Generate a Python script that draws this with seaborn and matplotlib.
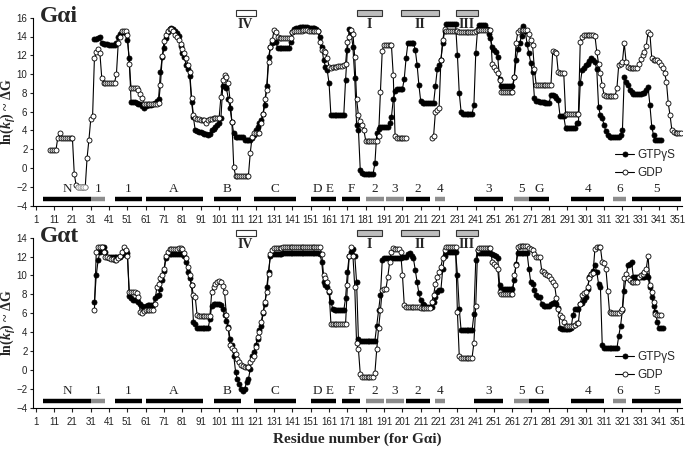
import numpy as np
import pandas as pd
import matplotlib
matplotlib.use('Agg')
import matplotlib.pyplot as plt
import seaborn as sns
from matplotlib.lines import Line2D
from matplotlib.patches import Rectangle

nan = np.nan

# Gai, GDP state (open circles), one value per residue starting at residue 1
gi_gdp = [nan] * 8 + [1.9, 1.9,
    1.9, 1.9, 3.2, 3.7, 3.2, 3.2, 3.2, 3.2, 3.2, 3.2,
    3.2, -0.6, -1.8, -2.0, -2.0, -2.0, -2.0, -2.0, 1.1, 3.0,
    5.2, 5.5, 11.7, 12.3, 12.7, 12.2, 9.6, 9.1, 9.1, 9.1,
    9.1, 9.1, 9.1, 9.1, 10.0, 13.3, 14.0, 14.6, 14.6, 14.6,
    14.2, 11.1, 8.5, 8.5, 8.5, 8.5, 8.3, 7.9, 7.5, 6.8,
    6.8, 6.8, 6.8, 6.8, 6.8, 6.8, 6.8, 6.9, 8.8, 11.9,
    13.5, 14.2, 14.6, 14.8, 14.8, 14.6, 14.2, 13.9, 13.6, 13.2,
    12.7, 12.2, 11.7, 11.0, 10.2, 7.5, 5.6, 5.3, 5.2, 5.2,
    5.1, 5.1, 5.1, 4.8, 5.1, 5.2, 5.2, 5.3, 5.3, 5.3,
    5.3, 7.6, 9.4, 9.9, 9.7, 9.0, 7.2, 4.9, 0.1, -0.8,
    -0.8, -0.8, -0.8, -0.8, -0.8, -0.8, -0.8, 1.6, 3.3, 3.7,
    3.7, 3.7, 3.7, 4.8, 5.8, 7.4, 8.3, 11.3, 12.9, 13.6,
    14.7, 14.5, 14.0, 13.8, 13.8, 13.8, 13.8, 13.8, 13.8, 13.8,
    14.5, 14.6, 14.6, 14.6, 14.6, 14.6, 14.7, 14.7, 14.7, 14.6,
    14.6, 14.6, 14.6, 14.6, 14.6, 13.4, 12.6, 12.5, 12.4, 11.7,
    10.8, 10.7, 10.8, 10.8, 10.8, 10.9, 10.9, 10.9, 11.0, 11.1,
    13.4, 14.0, 14.7, 14.3, 11.8, 7.4, 5.6, 5.0, 4.6, 4.0,
    2.9, 2.9, 2.9, 2.9, 2.9, 2.9, 2.9, 3.4, 8.1, 12.5,
    13.1, 13.1, 13.1, 13.1, 13.1, 9.9, 3.4, 3.2, 3.2, 3.2,
    3.2, 3.2, 3.2, nan, nan, nan, nan, nan, nan, nan,
    nan, nan, nan, nan, nan, nan, 3.2, 3.4, 6.0, 6.2,
    6.4, 11.5, 13.6, 14.8, 14.6, 14.6, 14.6, 14.6, 14.6, 14.6,
    14.6, 14.5, 14.5, 14.5, 14.5, 14.5, 14.5, 14.5, 14.5, 14.5,
    14.6, 14.7, 14.7, 14.7, 14.7, 14.7, 14.7, 14.7, 14.7, 11.1,
    10.8, 10.4, 10.1, 9.4, 8.1, 8.1, 8.1, 8.1, 8.1, 8.1,
    8.1, 9.7, 13.3, 14.5, 14.7, 14.7, 14.7, 14.7, 14.7, 14.3,
    13.6, 13.1, 10.5, 8.8, 8.8, 8.8, 8.8, 8.8, 8.8, 8.8,
    8.8, 8.8, 12.5, 12.4, 12.2, 10.2, 10.1, 10.1, 10.1, 5.8,
    5.8, 5.8, 5.8, 5.8, 5.8, 5.8, 5.8, 13.4, 14.0, 14.2,
    14.2, 14.2, 14.2, 14.2, 14.2, 14.1, 12.4, 11.1, 10.1, 8.8,
    7.8, 7.7, 7.7, 7.7, 7.7, 7.7, 7.7, 8.5, 11.0, 11.1,
    11.3, 13.3, 11.3, 10.8, 10.6, 10.6, 10.6, 10.6, 10.6, 11.1,
    11.6, 12.0, 12.4, 13.0, 14.5, 14.3, 11.7, 11.5, 11.5, 11.5,
    11.3, 11.0, 10.6, 10.1, 9.2, 6.9, 5.6, 4.0, 3.8, 3.7,
    3.7, 3.7, 3.7]
gi_gdp_gray = [24, 25, 26, 27, 28]

# Gai, GTPgammaS state (filled circles)
gi_gtp = [nan] * 30 + [
    nan, nan, 13.7, 13.7, 13.8, 13.9, 13.3, 13.2, 13.2, 13.2,
    13.1, 13.1, 13.1, 13.1, 13.3, 14.0, 14.3, 14.5, 14.5, 14.4,
    13.6, 11.7, 7.0, 7.0, 7.0, 6.9, 6.8, 6.8, 6.6, 6.4,
    6.6, 6.7, 6.7, 6.7, 6.8, 6.9, 7.1, 7.4, 10.2, 11.8,
    12.8, 13.8, 14.5, 14.8, 14.9, 14.8, 14.6, 14.4, 14.1, 13.0,
    12.2, 11.8, 11.0, 10.5, 9.8, 7.0, 5.4, 4.0, 3.9, 3.8,
    3.8, 3.7, 3.6, 3.6, 3.5, 3.6, 4.0, 4.2, 4.4, 4.6,
    4.8, 5.3, 8.7, 8.7, 8.5, 7.4, 6.4, 4.9, 3.7, 3.3,
    3.3, 3.3, 3.3, 3.3, 3.0, 3.0, 3.0, 3.0, 3.2, 3.5,
    4.0, 4.4, 4.8, 5.1, 5.8, 6.7, 8.7, 11.8, 12.9, 13.3,
    13.4, 13.4, 12.8, 12.8, 12.8, 12.8, 12.8, 12.8, 12.8, 13.4,
    14.5, 14.8, 14.9, 14.9, 15.0, 15.0, 15.0, 15.0, 15.0, 14.9,
    14.9, 14.9, 14.9, 14.8, 14.6, 14.0, 12.9, 11.5, 10.8, 10.4,
    9.0, 5.6, 5.6, 5.6, 5.6, 5.6, 5.6, 5.6, 5.6, 9.4,
    12.6, 14.8, 14.5, 12.9, 9.6, 4.6, 4.1, -0.2, -0.5, -0.6,
    -0.6, -0.6, -0.6, -0.6, -0.6, 0.5, 3.7, 4.2, 4.4, 4.4,
    4.4, 4.4, 4.4, 4.8, 5.4, 7.3, 8.2, 8.4, 8.4, 8.4,
    8.4, 9.5, 11.7, 13.3, 13.3, 13.3, 13.3, 12.6, 11.0, 8.8,
    7.1, 6.9, 6.9, 6.9, 6.9, 6.9, 6.9, 6.9, 8.7, 10.5,
    11.0, 11.5, 13.3, 14.6, 15.3, 15.3, 15.3, 15.3, 15.3, 15.3,
    12.0, 8.0, 6.0, 5.8, 5.8, 5.8, 5.8, 5.8, 5.8, 6.7,
    12.2, 14.8, 15.2, 15.2, 15.2, 15.2, 14.8, 14.3, 13.8, 12.9,
    12.6, 12.4, 11.8, 9.5, 8.7, 8.7, 8.7, 8.7, 8.7, 8.7,
    8.7, 9.7, 11.5, 12.7, 13.3, 14.1, 15.1, 14.6, 13.2, 12.2,
    11.2, 10.2, 7.5, 7.1, 7.1, 7.0, 7.0, 7.0, 6.9, 6.9,
    6.9, 7.8, 7.8, 7.7, 7.5, 7.2, 5.5, 5.5, 5.5, 4.3,
    4.3, 4.3, 4.3, 4.3, 4.3, 4.8, 4.8, 9.0, 10.4, 10.7,
    11.0, 11.1, 11.4, 11.7, 11.5, 11.3, 10.5, 6.5, 5.6, 5.3,
    4.6, 3.9, 3.5, 3.3, 3.3, 3.3, 3.3, 3.3, 3.3, 3.5,
    4.0, 9.7, 9.2, 8.8, 8.3, 8.1, 7.9, 7.9, 7.9, 7.9,
    7.9, 8.0, 8.0, 8.3, 8.6, 6.7, 4.4, 3.5, 3.0, 3.0,
    3.0, 3.0]

# Gat, GDP state
gt_gdp = [nan] * 30 + [
    nan, nan, 6.3, 12.5, 13.0, 13.0, 13.0, 12.5, 12.0, 12.0,
    11.9, 11.7, 11.7, 11.6, 11.6, 11.8, 12.1, 12.5, 13.0, 12.7,
    12.1, 8.3, 8.3, 8.2, 8.2, 8.1, 7.7, 6.1, 6.0, 6.2,
    6.3, 6.3, 6.3, 6.3, 6.3, 7.0, 8.8, 9.1, 9.7, 10.0,
    10.7, 12.1, 12.5, 12.8, 12.8, 12.8, 12.8, 12.8, 12.9, 12.9,
    12.8, 12.4, 11.9, 10.9, 10.0, 9.0, 7.9, 7.7, 5.8, 5.7,
    5.7, 5.7, 5.7, 5.7, 5.7, 5.7, 8.3, 8.8, 9.1, 9.3,
    9.4, 9.3, 8.9, 8.2, 5.8, 4.4, 2.6, 2.3, 2.1, 1.7,
    1.2, 0.8, 0.5, 0.4, 0.3, 0.3, 0.3, 0.8, 1.2, 1.5,
    2.4, 3.5, 4.0, 5.1, 6.1, 7.2, 8.2, 10.2, 12.3, 12.7,
    12.9, 12.9, 12.9, 12.9, 12.9, 13.0, 13.0, 13.0, 13.0, 13.0,
    13.0, 13.0, 13.0, 13.0, 13.0, 13.0, 13.0, 13.0, 13.0, 13.0,
    13.0, 13.0, 13.0, 13.0, 13.0, 13.0, 12.3, 10.0, 9.7, 9.3,
    8.4, 4.9, 4.9, 4.9, 4.9, 4.9, 4.9, 4.9, 4.9, 4.9,
    9.0, 12.1, 13.0, 12.1, 8.8, 2.8, 2.2, -0.4, -0.8, -0.8,
    -0.8, -0.8, -0.8, -0.8, -0.8, -0.3, 2.2, 4.4, 6.3, 8.5,
    8.6, 8.6, 9.8, 11.4, 12.5, 12.9, 12.8, 12.8, 12.8, 12.5,
    10.1, 6.9, 6.7, 6.7, 6.7, 6.7, 6.7, 6.7, 6.7, 6.7,
    6.6, 6.6, 6.6, 6.6, 6.6, 6.6, 7.2, 7.9, 9.1, 9.8,
    10.4, 10.9, 11.9, 12.7, 13.0, 13.0, 13.0, 13.0, 13.0, 13.0,
    6.1, 1.5, 1.3, 1.3, 1.3, 1.3, 1.3, 1.3, 1.3, 2.9,
    6.8, 12.7, 12.9, 12.9, 12.9, 12.9, 12.9, 12.9, 12.9, 11.4,
    11.2, 11.0, 10.7, 8.2, 8.0, 8.0, 8.0, 8.0, 8.0, 8.0,
    8.0, 10.0, 11.1, 13.0, 13.1, 13.1, 13.1, 13.1, 13.1, 12.9,
    12.8, 12.7, 12.3, 12.0, 12.0, 12.0, 10.5, 10.4, 10.2, 10.1,
    9.9, 9.6, 9.3, 9.0, 7.6, 6.5, 5.8, 5.6, 5.1, 4.7,
    4.6, 4.6, 4.6, 4.6, 4.8, 5.0, 5.0, 7.0, 7.9, 8.1,
    8.2, 8.8, 9.7, 10.2, 10.3, 12.8, 13.0, 13.0, 13.0, 11.4,
    11.3, 10.7, 8.4, 6.1, 6.0, 6.0, 6.0, 6.0, 6.0, 6.2,
    6.5, 9.7, 10.2, 9.7, 9.5, 9.3, 9.3, 9.3, 9.3, 9.8,
    10.0, 10.2, 10.4, 10.7, 12.1, 9.0, 8.3, 7.2, 5.9, 5.8,
    5.8, 5.8]

# Gat, GTPgammaS state
gt_gtp = [nan] * 30 + [
    nan, nan, 7.2, 10.0, 11.6, 12.5, 13.0, 13.0, 12.5, 12.0,
    12.0, 12.0, 12.0, 12.0, 12.0, 12.0, 12.0, 12.2, 12.5, 12.6,
    12.4, 7.8, 7.6, 7.4, 7.4, 7.4, 7.2, 7.0, 6.8, 6.5,
    6.8, 6.9, 6.9, 6.9, 6.9, 7.6, 7.8, 7.9, 8.6, 9.5,
    10.5, 11.8, 12.3, 12.3, 12.3, 12.3, 12.3, 12.3, 12.3, 12.3,
    12.3, 12.1, 11.4, 10.4, 9.7, 9.0, 5.1, 4.9, 4.4, 4.4,
    4.4, 4.4, 4.4, 4.4, 4.4, 5.4, 6.8, 7.0, 7.0, 7.0,
    7.0, 6.9, 6.5, 5.8, 5.2, 4.5, 3.3, 2.6, 1.5, -0.2,
    -1.0, -1.5, -2.0, -2.2, -2.0, -1.3, -1.0, 0.1, 1.5, 1.9,
    2.6, 3.3, 4.2, 4.7, 6.0, 7.0, 8.8, 10.4, 12.1, 12.3,
    12.3, 12.3, 12.3, 12.3, 12.3, 12.4, 12.4, 12.4, 12.4, 12.4,
    12.4, 12.4, 12.4, 12.4, 12.4, 12.4, 12.4, 12.4, 12.4, 12.4,
    12.4, 12.4, 12.4, 12.4, 12.4, 12.3, 11.4, 9.3, 9.0, 8.8,
    8.3, 7.2, 6.5, 6.3, 6.3, 6.3, 6.3, 6.3, 6.3, 7.6,
    10.4, 12.1, 12.5, 12.8, 12.1, 9.3, 3.3, 3.1, 3.1, 3.1,
    3.1, 3.1, 3.1, 3.1, 3.1, 3.1, 4.7, 6.3, 7.9, 11.6,
    11.9, 11.9, 11.9, 11.9, 11.9, 11.9, 11.9, 11.9, 11.9, 11.9,
    12.0, 12.0, 12.0, 12.3, 12.4, 12.1, 11.8, 10.6, 9.3, 8.1,
    7.4, 7.0, 6.9, 6.7, 6.7, 6.7, 6.7, 7.2, 7.7, 8.3,
    8.5, 8.5, 10.7, 12.1, 12.5, 12.5, 12.5, 12.5, 12.5, 12.5,
    10.1, 6.5, 4.2, 4.2, 4.2, 4.2, 4.2, 4.2, 4.2, 5.9,
    11.6, 12.7, 12.4, 12.4, 12.4, 12.4, 12.4, 12.4, 12.4, 12.3,
    12.2, 12.1, 11.8, 9.0, 8.6, 8.6, 8.6, 8.6, 8.6, 8.6,
    8.6, 9.5, 11.2, 12.4, 12.4, 12.4, 12.4, 12.4, 12.4, 10.7,
    9.3, 9.1, 8.5, 7.9, 7.7, 7.7, 7.0, 6.8, 6.8, 6.8,
    6.8, 7.0, 7.1, 7.2, 7.0, 6.6, 4.4, 4.3, 4.3, 4.3,
    4.3, 4.3, 4.4, 5.8, 6.4, 6.4, 6.4, 7.0, 7.1, 7.4,
    7.7, 8.6, 9.8, 10.2, 10.5, 11.1, 10.4, 9.1, 8.8, 2.6,
    2.3, 2.3, 2.3, 2.3, 2.3, 2.3, 2.3, 2.3, 3.6, 4.7,
    6.3, 8.4, 9.8, 11.1, 11.2, 11.4, 9.8, 9.8, 9.8, 9.8,
    9.8, 9.8, 9.8, 10.0, 9.8, 8.8, 7.7, 6.8, 6.1, 5.1,
    4.4, 4.4, 4.4]

# secondary structure elements (residue ranges, Gai numbering)
ss_names = ['N', '1', '1', 'A', 'B', 'C', 'D E', 'F', '2', '3', '2', '4',
            '3', '5', 'G', '4', '6', '5']
ss_start = [5, 31, 44, 61, 98, 120, 151, 168, 181, 192, 203, 219,
            240, 262, 270, 293, 316, 326]
ss_end = [31, 39, 59, 92, 113, 143, 165, 178, 191, 202, 216, 224,
          256, 270, 281, 311, 323, 353]
ss_gray = [0, 1, 0, 0, 0, 0, 0, 0, 1, 1, 0, 1, 0, 1, 0, 0, 1, 0]

# switch regions
sw_names = ['IV', 'I', 'II', 'III']
sw_start = [110, 176, 200, 230]
sw_end = [121, 190, 221, 242]
sw_gray = [0, 1, 1, 1]

sns.set_theme(style='ticks')
plt.rcParams['font.family'] = ['Liberation Sans', 'DejaVu Sans']
plt.rcParams['mathtext.fontset'] = 'custom'
plt.rcParams['mathtext.rm'] = 'Liberation Serif:bold'
plt.rcParams['mathtext.it'] = 'Liberation Serif:bold:italic'
plt.rcParams['mathtext.bf'] = 'Liberation Serif:bold'

serif = ['Liberation Serif', 'DejaVu Serif']


def draw_series(ax, values, filled):
    df = pd.DataFrame({'res': np.arange(1, len(values) + 1), 'val': values})
    df['seg'] = df['val'].isna().cumsum()
    df = df.dropna()
    face = 'black' if filled else 'white'
    for _, part in df.groupby('seg'):
        sns.lineplot(data=part, x='res', y='val', ax=ax, color='black',
                     linewidth=0.8, marker='o', markersize=3.6,
                     markerfacecolor=face, markeredgecolor='black',
                     markeredgewidth=0.6, estimator=None, legend=False)


def decorate(ax, ymax, bar_y, box_y, title, leg_y):
    ax.set_xlim(-0.5, 353.5)
    ax.set_ylim(-4, ymax)
    ax.set_xticks(np.arange(1, 352, 10))
    ax.set_yticks(np.arange(-4, ymax + 1, 2))
    ax.set_xlabel('')
    ax.set_ylabel('')
    ax.tick_params(labelsize=7, length=3, width=0.8, colors='#222222')
    ax.tick_params(axis='y', pad=1.5, length=2.5)
    for s in ['left', 'bottom']:
        ax.spines[s].set_linewidth(0.8)
        ax.spines[s].set_color('black')
    sns.despine(ax=ax)

    for name, a, b, g in zip(ss_names, ss_start, ss_end, ss_gray):
        ax.plot([a, b], [bar_y, bar_y], color='#8c8c8c' if g else 'black',
                lw=3.2, solid_capstyle='butt')
        ax.text((a + b) / 2, bar_y + 0.35, name, ha='center', va='bottom',
                fontsize=9.5, family=serif, color='#222222')

    for name, a, b, g in zip(sw_names, sw_start, sw_end, sw_gray):
        ax.add_patch(Rectangle((a, box_y), b - a, 0.6,
                               facecolor='#bdbdbd' if g else 'white',
                               edgecolor='#333333', lw=0.8, clip_on=False))
        ax.text((a + b) / 2, box_y - 0.2, name, ha='center', va='top',
                fontsize=10, family=serif, fontweight='bold')

    ax.text(3.5, ymax + 0.1, title, ha='left', va='center', fontsize=17,
            family=serif, fontweight='bold', clip_on=False)

    handles = [Line2D([], [], color='black', lw=0.8, marker='o', ms=3.6,
                      mfc='black', mec='black', mew=0.6),
               Line2D([], [], color='black', lw=0.8, marker='o', ms=3.6,
                      mfc='white', mec='black', mew=0.6)]
    ax.legend(handles, ['GTPγS', 'GDP'], loc='upper left',
              bbox_to_anchor=(0.897, leg_y), frameon=False, fontsize=8.5,
              handlelength=1.6, handletextpad=0.3, labelspacing=0.5,
              borderaxespad=0, borderpad=0)


fig = plt.figure(figsize=(6.85, 4.55), dpi=100)
ax1 = fig.add_axes([33 / 685, 1 - 205.7 / 455, 649 / 685, 188 / 455])
ax2 = fig.add_axes([33 / 685, 1 - 407.7 / 455, 649 / 685, 170 / 455])

draw_series(ax1, gi_gtp, True)
draw_series(ax1, gi_gdp, False)
gray_vals = [gi_gdp[r - 1] for r in gi_gdp_gray]
sns.lineplot(x=gi_gdp_gray, y=gray_vals, ax=ax1, color='#b0b0b0',
             linewidth=0.8, marker='o', markersize=3.6,
             markerfacecolor='white', markeredgecolor='#a0a0a0',
             markeredgewidth=0.6, estimator=None, legend=False)
decorate(ax1, 16, -3.25, 16.2, 'Gαi', 0.30)

draw_series(ax2, gt_gtp, True)
draw_series(ax2, gt_gdp, False)
decorate(ax2, 14, -3.25, 14.2, 'Gαt', 0.335)

ylab = r'ln($k_f$) ~ ΔG'
fig.text(0.0125, 0.754, ylab, rotation=90, ha='center', va='center',
         fontsize=10, family=serif, fontweight='bold')
fig.text(0.0125, 0.29, ylab, rotation=90, ha='center', va='center',
         fontsize=10, family=serif, fontweight='bold')
fig.text(357 / 685, 0.035, 'Residue number (for Gαi)', ha='center',
         va='center', fontsize=11, family=serif, fontweight='bold')

fig.savefig('out.png', dpi=100)
